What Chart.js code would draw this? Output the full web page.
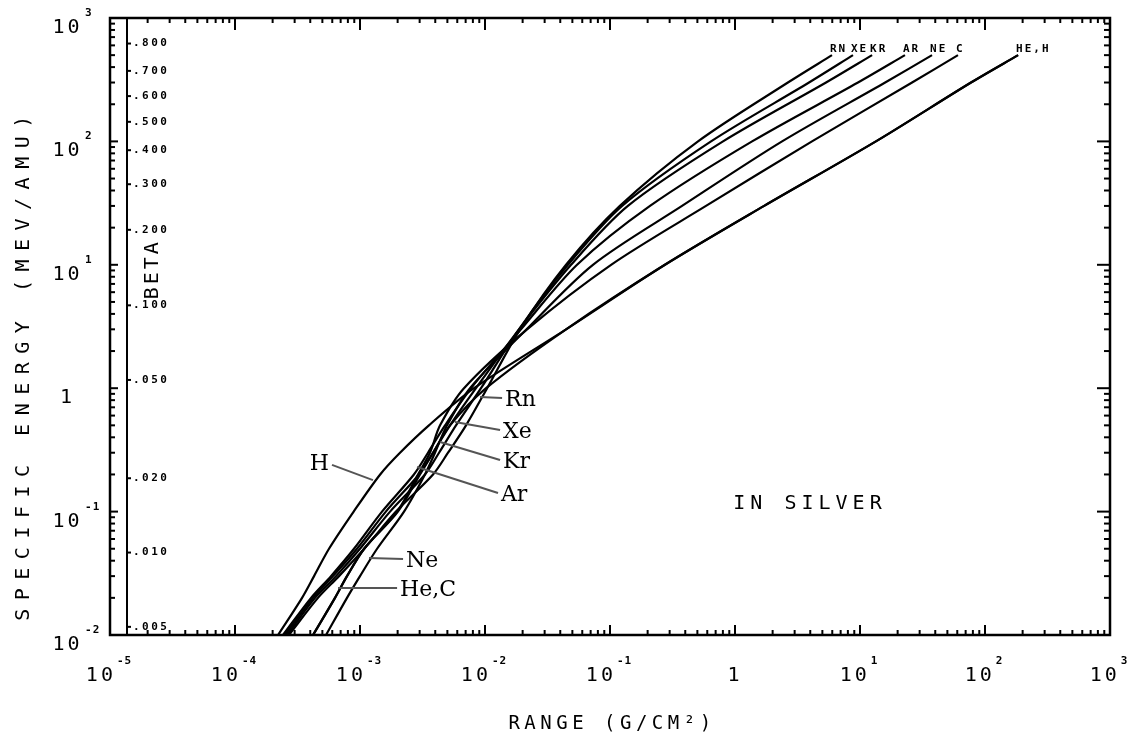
<!DOCTYPE html>
<html>
<head>
<meta charset="utf-8">
<title>Range-energy curves in silver</title>
<script src="https://cdn.jsdelivr.net/npm/chart.js@4.4.1/dist/chart.umd.min.js"></script>
<style>
  html, body { margin: 0; padding: 0; background: #fff; }
  canvas { display: block; }
</style>
</head>
<body>
<canvas id="range-chart" width="1137" height="739"></canvas>
<script>
const energy = [500, 300, 100, 30, 10, 3, 1, 0.5, 0.3, 0.2, 0.1, 0.05, 0.03, 0.02, 0.01];

// range in g/cm^2 for each ion, same order as energy
const rangeRn = [5.97, 2.65, 0.506, 0.120, 0.0445, 0.0191, 0.0104, 0.00705, 0.00506, 0.00384, 0.00194, 0.00108, 0.000679, 0.000461, 0.000270];
const rangeXe = [8.79, 3.91, 0.643, 0.125, 0.0461, 0.0187, 0.00929, 0.00586, 0.00429, 0.00331, 0.00174, 0.00100, 0.000643, 0.000437, 0.000261];
const rangeKr = [12.5, 5.35, 0.802, 0.139, 0.0488, 0.0187, 0.00847, 0.00525, 0.00384, 0.00296, 0.00161, 0.000946, 0.000608, 0.000421, 0.000251];
const rangeAr = [22.9, 9.64, 1.37, 0.209, 0.0545, 0.0194, 0.00773, 0.00479, 0.00350, 0.00270, 0.00150, 0.000895, 0.000586, 0.000406, 0.000242];
const rangeNe = [37.7, 15.9, 2.38, 0.377, 0.0730, 0.0215, 0.00759, 0.00497, 0.00398, 0.00331, 0.00225, 0.00137, 0.00100, 0.000787, 0.000535];
const rangeC  = [60.8, 26.1, 4.13, 0.586, 0.102, 0.0217, 0.00679, 0.00437, 0.00363, 0.00291, 0.00198, 0.00108, 0.000787, 0.000631, 0.000421];
const rangeHe = [184, 77.3, 13.4, 1.71, 0.275, 0.0445, 0.0102, 0.00525, 0.00384, 0.00302, 0.00201, 0.00108, 0.000787, 0.000631, 0.000421];
const rangeH  = [184, 77.3, 13.4, 1.71, 0.275, 0.0445, 0.00817, 0.00356, 0.00209, 0.00145, 0.000890, 0.000565, 0.000429, 0.000344, 0.000221];

const ions = ['Rn', 'Xe', 'Kr', 'Ar', 'Ne', 'C', 'He', 'H'];
const ionRanges = [rangeRn, rangeXe, rangeKr, rangeAr, rangeNe, rangeC, rangeHe, rangeH];
const topNames = ['RN', 'XE', 'KR', 'AR', 'NE', 'C', 'HE,H', ''];

// tick labels
const xTickExp = [-5, -4, -3, -2, -1, 0, 1, 2, 3];
const yTickExp = [-2, -1, 0, 1, 2, 3];
const betaValues = [0.8, 0.7, 0.6, 0.5, 0.4, 0.3, 0.2, 0.1, 0.05, 0.02, 0.01, 0.005];
const betaLabels = ['.800', '.700', '.600', '.500', '.400', '.300', '.200', '.100', '.050', '.020', '.010', '.005'];

// low energy labels: text, leader start [range, energy], leader end on the curve
const noteText = ['Rn', 'Xe', 'Kr', 'Ar', 'H', 'Ne', 'He,C'];
const noteFrom = [[0.0137, 0.833], [0.0132, 0.458], [0.0132, 0.262], [0.0127, 0.1415], [0.000597, 0.239], [0.00221, 0.0413], [0.00198, 0.024]];
const noteTo   = [[0.00912, 0.849], [0.00575, 0.532], [0.00437, 0.366], [0.00286, 0.23], [0.00127, 0.180], [0.00118, 0.042], [0.000667, 0.024]];

const mono = '"DejaVu Sans Mono", "Liberation Mono", monospace';
const serif = '"DejaVu Serif", "Liberation Serif", serif';

function seg(ctx, x1, y1, x2, y2) {
    ctx.beginPath();
    ctx.moveTo(x1, y1);
    ctx.lineTo(x2, y2);
    ctx.stroke();
}

function setFont(ctx, spec, spacing) {
    ctx.font = spec;
    ctx.letterSpacing = (spacing || 0) + 'px';
}

// "10" with a small raised exponent
function powerParts(exp) {
    if (exp === 0) return ['1', ''];
    return ['10', String(exp)];
}

const axesPlugin = {
    id: 'plotterAxes',
    afterDraw(chart) {
        const ctx = chart.ctx;
        const a = chart.chartArea;
        const x = chart.scales.x, y = chart.scales.y;
        ctx.save();
        ctx.strokeStyle = '#000';
        ctx.fillStyle = '#000';
        ctx.lineCap = 'butt';

        // frame
        ctx.lineWidth = 2.5;
        ctx.strokeRect(a.left, a.top, a.right - a.left, a.bottom - a.top);

        // inward ticks, bottom and top
        ctx.lineWidth = 2;
        for (let k = -5; k < 3; k++) {
            for (let m = 1; m <= 9; m++) {
                const px = x.getPixelForValue(m * Math.pow(10, k));
                const big = m === 1;
                seg(ctx, px, a.bottom, px, a.bottom - (big ? 10 : 5));
                seg(ctx, px, a.top, px, a.top + (big ? 12 : 5));
            }
        }
        // left and right
        for (let k = -2; k < 3; k++) {
            for (let m = 1; m <= 9; m++) {
                const py = y.getPixelForValue(m * Math.pow(10, k));
                const big = m === 1;
                seg(ctx, a.left, py, a.left + (big ? 8 : 5), py);
                seg(ctx, a.right, py, a.right - (big ? 13 : 6), py);
            }
        }

        // x tick labels
        xTickExp.forEach(e => {
            const px = x.getPixelForValue(Math.pow(10, e));
            const [base, sup] = powerParts(e);
            setFont(ctx, '20px ' + mono, 3);
            const wb = ctx.measureText(base).width;
            setFont(ctx, 'bold 11px ' + mono, 1);
            const ws = sup ? ctx.measureText(sup).width + 3 : 0;
            const left = px - (wb + ws) / 2;
            ctx.textAlign = 'left';
            ctx.textBaseline = 'alphabetic';
            setFont(ctx, '20px ' + mono, 3);
            ctx.fillText(base, left, a.bottom + 46);
            if (sup) {
                setFont(ctx, 'bold 11px ' + mono, 1);
                ctx.fillText(sup, left + wb + 1, a.bottom + 29);
            }
        });

        // y tick labels
        yTickExp.forEach(e => {
            const py = y.getPixelForValue(Math.pow(10, e));
            const [base, sup] = powerParts(e);
            const cx = a.left - 44;
            setFont(ctx, '20px ' + mono, 3);
            const wb = ctx.measureText(base).width;
            ctx.textAlign = 'center';
            ctx.textBaseline = 'alphabetic';
            ctx.fillText(base, cx + 1.5, py + 15);
            if (sup) {
                setFont(ctx, 'bold 11px ' + mono, 1);
                ctx.textAlign = 'left';
                ctx.fillText(sup, cx + wb / 2 + 4, py - 2);
            }
        });

        // axis titles
        setFont(ctx, '19px ' + mono, 4.5);
        ctx.textAlign = 'center';
        ctx.textBaseline = 'alphabetic';
        ctx.fillText('RANGE (G/CM\u00B2)', (a.left + a.right) / 2 + 2, a.bottom + 94);

        ctx.save();
        ctx.translate(29, 364);
        ctx.rotate(-Math.PI / 2);
        setFont(ctx, '20px ' + mono, 8.5);
        ctx.fillText('SPECIFIC ENERGY (MEV/AMU)', 0, 0);
        ctx.restore();

        // beta scale inside the frame
        const bx = a.left + 17;
        ctx.lineWidth = 2;
        seg(ctx, bx, a.top, bx, a.bottom);
        setFont(ctx, 'bold 11px ' + mono, 2.5);
        ctx.textAlign = 'left';
        ctx.textBaseline = 'middle';
        betaValues.forEach((b, i) => {
            const e = 931.494 * (1 / Math.sqrt(1 - b * b) - 1);
            const py = y.getPixelForValue(e);
            seg(ctx, bx, py, bx + 4, py);
            ctx.fillText(betaLabels[i], bx + 6, py);
        });
        ctx.save();
        ctx.translate(a.left + 48, y.getPixelForValue(9.2));
        ctx.rotate(-Math.PI / 2);
        setFont(ctx, '20px ' + mono, 3);
        ctx.textAlign = 'center';
        ctx.textBaseline = 'alphabetic';
        ctx.fillText('BETA', 0, 0);
        ctx.restore();

        // names at the high energy end of each curve
        setFont(ctx, 'bold 11px ' + mono, 2);
        ctx.textAlign = 'left';
        ctx.textBaseline = 'alphabetic';
        topNames.forEach((name, i) => {
            if (!name) return;
            const pts = chart.getDatasetMeta(i).data;
            const p = pts[pts.length - 1];
            ctx.fillText(name, p.x - 2, p.y - 3);
        });

        // low energy labels with leaders
        ctx.strokeStyle = '#555';
        ctx.lineWidth = 2;
        setFont(ctx, '22px ' + serif, 0);
        ctx.textBaseline = 'middle';
        noteText.forEach((t, i) => {
            const fx = x.getPixelForValue(noteFrom[i][0]), fy = y.getPixelForValue(noteFrom[i][1]);
            const tx = x.getPixelForValue(noteTo[i][0]), ty = y.getPixelForValue(noteTo[i][1]);
            seg(ctx, fx, fy, tx, ty);
            if (tx > fx) {
                ctx.textAlign = 'right';
                ctx.fillText(t, fx - 3, fy - 1);
            } else {
                ctx.textAlign = 'left';
                ctx.fillText(t, fx + 3, fy + 2);
            }
        });

        // material
        setFont(ctx, '20px ' + mono, 5);
        ctx.textAlign = 'center';
        ctx.textBaseline = 'middle';
        ctx.fillText('IN SILVER', x.getPixelForValue(3.98), y.getPixelForValue(0.115));

        ctx.restore();
    }
};

const datasets = ions.map((ion, i) => ({
    label: ion,
    data: energy.map((e, j) => ({ x: ionRanges[i][j], y: e })).reverse(),
    borderColor: '#000',
    borderWidth: 2.2,
    pointRadius: 0,
    showLine: true,
    fill: false,
    tension: 0.3
}));

new Chart(document.getElementById('range-chart'), {
    type: 'scatter',
    data: { datasets: datasets },
    options: {
        responsive: false,
        devicePixelRatio: 1,
        animation: false,
        layout: { padding: { left: 110, right: 27, top: 18, bottom: 104 } },
        plugins: { legend: { display: false }, tooltip: { enabled: false } },
        scales: {
            x: { type: 'logarithmic', min: 1e-5, max: 1e3, display: false },
            y: { type: 'logarithmic', min: 1e-2, max: 1e3, display: false }
        }
    },
    plugins: [axesPlugin]
});
</script>
</body>
</html>
